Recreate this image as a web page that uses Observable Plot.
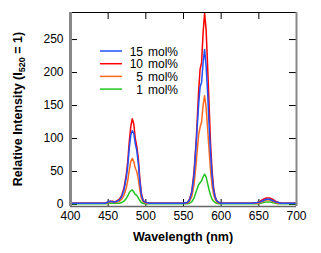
<!DOCTYPE html>
<html><head><meta charset="utf-8">
<script src="https://cdn.jsdelivr.net/npm/d3@7"></script>
<script src="https://cdn.jsdelivr.net/npm/@observablehq/plot@0.6"></script>
<style>body{margin:0;background:#fff}</style>
</head><body><div id="chart"></div>
<script>
const wavelengths = [400,410,420,430,440,446,450,453,456,459,462,465,468,471,474,476,478,480,482,484,486,488,490,492,494,496,498,501,505,510,520,530,540,550,555,558,561,564,567,570,572,574,576,578,580,582,584,586,588,590,592,594,597,600,610,620,630,640,648,652,656,660,664,668,672,676,680,690,700];
const mol15 = [2,2,2,2,2,2,4,5,4,4,5,7,12,22,40,58,85,105,112,108,92,82,62,35,15,7,4,3,2,2,2,2,2,2,3,7,18,45,95,150,178,185,215,235,210,170,120,75,42,22,11,6,3,2,2,2,2,2,3,4,6,8,8,6,4,3,2,2,2];
const mol10 = [2,2,2,2,2,2,4,5,5,4,6,8,14,25,45,65,95,118,130,122,100,88,70,40,18,8,4,3,2,2,2,2,2,2,3,8,20,50,100,170,205,215,260,290,265,210,150,90,50,25,12,6,3,2,2,2,2,2,3,5,8,10,10,8,5,3,2,2,2];
const mol5 = [2,2,2,2,2,2,3,4,4,3,4,5,8,14,25,36,52,65,70,65,55,50,38,22,10,5,3,2,2,2,2,2,2,2,2,5,12,30,65,105,117,125,150,165,148,115,82,50,28,15,8,4,2,2,2,2,2,2,2,3,5,7,7,5,3,2,2,2,2];
const mol1 = [1,1,1,1,1,1,2,2,2,2,2,2,3,5,9,13,18,21,22,19,15,14,10,6,3,2,1,1,1,1,1,1,1,1,1,2,4,10,20,30,33,36,42,46,42,32,22,14,8,5,3,2,1,1,1,1,1,1,1,2,3,4,4,3,2,1,1,1,1];
const seriesNames = ["15 mol%","10 mol%","5 mol%","1 mol%"];
const seriesColors = ["#1e50ff","#ff0000","#ff6a1e","#22c422"];
const legendNums = ["15","10","5","1"];
const xTicks = [400,450,500,550,600,650,700];
const yTicks = [0,50,100,150,200,250];

const rows = (vals) => wavelengths.map((w,i)=>({w, v: vals[i]}));
const W=321,H=253,mL=70,mR=25,mT=12,mB=47;
const iw=W-mL-mR, ih=H-mT-mB, tk=7;
const font = "'Liberation Sans', Arial, Helvetica, sans-serif";

const plot = Plot.plot({
  width: W, height: H, marginLeft: mL, marginRight: mR, marginTop: mT, marginBottom: mB,
  style: {fontFamily: font, fontSize: "12px", color: "#000", background: "#fff"},
  x: {domain: [400,700]},
  y: {domain: [-3,291]},
  marks: [
    Plot.axisX(xTicks, {tickSize: 0, tickPadding: 5, fontSize: 12, label: null}),
    Plot.axisY(yTicks, {tickSize: 0, tickPadding: 7, fontSize: 12, label: null}),
    Plot.ruleX(xTicks, {insetTop: ih - tk, stroke: "#000"}),
    Plot.ruleX(xTicks, {insetBottom: ih - tk, stroke: "#000"}),
    Plot.ruleY(yTicks, {insetRight: iw - tk, stroke: "#000"}),
    Plot.ruleY(yTicks, {insetLeft: iw - tk, stroke: "#000"}),
    Plot.lineY(rows(mol1), {x: "w", y: "v", stroke: seriesColors[3], strokeWidth: 1.5}),
    Plot.lineY(rows(mol5), {x: "w", y: "v", stroke: seriesColors[2], strokeWidth: 1.5}),
    Plot.lineY(rows(mol10), {x: "w", y: "v", stroke: seriesColors[1], strokeWidth: 1.5}),
    Plot.lineY(rows(mol15), {x: "w", y: "v", stroke: seriesColors[0], strokeWidth: 1.5}),
    Plot.ruleY([291], {stroke: "#000", strokeWidth: 1}),
    Plot.ruleY([-3], {stroke: "#666", strokeWidth: 1.5}),
    Plot.ruleX([700], {stroke: "#888", strokeWidth: 2}),
    Plot.ruleX([400], {stroke: "#888", strokeWidth: 3})
  ]
});

const svg = d3.select(plot);
// legend
const lg = svg.append("g").attr("font-family", font).attr("font-size", 12).attr("fill", "#000");
[0,1,2,3].forEach(i => {
  const y = 51 + i*12.7;
  lg.append("line").attr("x1", 100).attr("x2", 122).attr("y1", y).attr("y2", y)
    .attr("stroke", seriesColors[i]).attr("stroke-width", 1.5);
  lg.append("text").attr("x", 143).attr("y", y + 4.5).attr("text-anchor", "end").text(legendNums[i]);
  lg.append("text").attr("x", 148).attr("y", y + 4.5).attr("text-anchor", "start").text("mol%");
});
// axis titles
svg.append("text").attr("x", mL + iw/2).attr("y", 241).attr("text-anchor", "middle")
  .attr("font-family", font).attr("font-size", 12.5).attr("font-weight", "bold").text("Wavelength (nm)");
const yt = svg.append("text").attr("transform", `translate(22,${mT + ih/2}) rotate(-90)`)
  .attr("text-anchor", "middle").attr("font-family", font).attr("font-size", 12.5).attr("font-weight", "bold");
yt.append("tspan").text("Relative Intensity (I");
yt.append("tspan").attr("font-size", 9).attr("dy", 3).text("520");
yt.append("tspan").attr("dy", -3).text(" = 1)");

document.getElementById("chart").appendChild(plot);
</script>
</body></html>
